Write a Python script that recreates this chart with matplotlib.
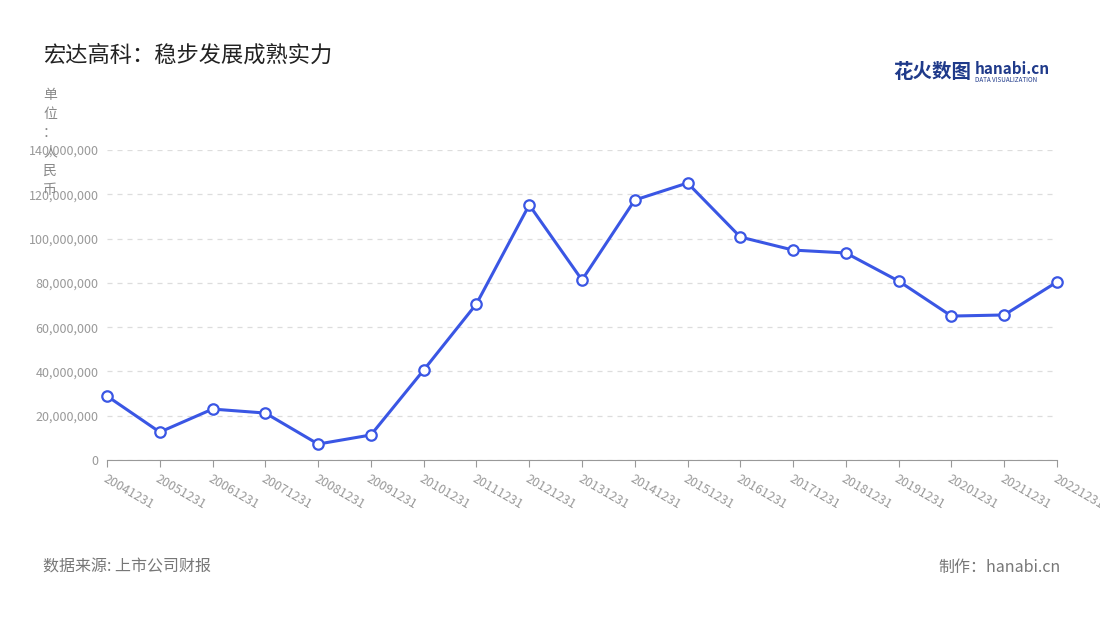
import matplotlib
matplotlib.use("Agg")
import matplotlib.pyplot as plt
from matplotlib.ticker import FuncFormatter, MultipleLocator

plt.rcParams['font.family'] = ['Noto Sans CJK SC', 'DejaVu Sans']

dates = ["20041231","20051231","20061231","20071231","20081231","20091231","20101231",
         "20111231","20121231","20131231","20141231","20151231","20161231","20171231",
         "20181231","20191231","20201231","20211231","20221231"]
values = [28.9e6,12.6e6,23.0e6,21.2e6,7.2e6,11.3e6,40.6e6,70.5e6,115.2e6,81.3e6,
          117.4e6,125.1e6,100.7e6,94.8e6,93.5e6,80.8e6,65.0e6,65.5e6,80.4e6]

fig = plt.figure(figsize=(11, 6.2), dpi=100)
ax = fig.add_axes([107/1100, 1-460/620, 950/1100, 310/620])
x = list(range(len(dates)))
ax.plot(x, values, color='#3a56e4', lw=2.2, marker='o', ms=7.5,
        mfc='white', mec='#3a56e4', mew=1.6, zorder=3, clip_on=False)
ax.set_xlim(0, len(dates)-1)
ax.set_ylim(0, 140e6)
ax.yaxis.set_major_locator(MultipleLocator(20e6))
ax.yaxis.set_major_formatter(FuncFormatter(lambda v, p: f"{int(v):,}"))
ax.grid(axis='y', ls=(0, (4, 4)), color='#dddddd', lw=0.9)
for s in ['top', 'right', 'left']:
    ax.spines[s].set_visible(False)
ax.spines['bottom'].set_color('#999999')
ax.set_xticks(x)
ax.set_xticklabels(dates, rotation=-30, ha='left', rotation_mode='anchor',
                   fontsize=9, color='#999999')
ax.tick_params(axis='x', length=5, color='#999999', pad=4)
ax.tick_params(axis='y', length=0, labelsize=9, labelcolor='#999999', pad=6)

fig.text(43/1100, 1-55/620, "宏达高科：稳步发展成熟实力", fontsize=16, color='#222222', va='center')
fig.text(50/1100, 1-88/620, "单\n位\n：\n人\n民\n币", fontsize=10, color='#888888',
         va='top', ha='center', linespacing=1.45)
fig.text(893/1100, 1-72/620, "花火数图", fontsize=14, color='#1f3a8a', va='center', weight='bold')
fig.text(975/1100, 1-69/620, "hanabi.cn", fontsize=11, color='#1f3a8a', va='center', weight='bold')
fig.text(975/1100, 1-80/620, "DATA VISUALIZATION", fontsize=4.5, color='#1f3a8a', va='center')
fig.text(43/1100, 1-567/620, "数据来源: 上市公司财报", fontsize=11.5, color='#777777', va='center')
fig.text(1061/1100, 1-567/620, "制作：hanabi.cn", fontsize=11.5, color='#777777', va='center', ha='right')

fig.savefig("out.png", dpi=100)
